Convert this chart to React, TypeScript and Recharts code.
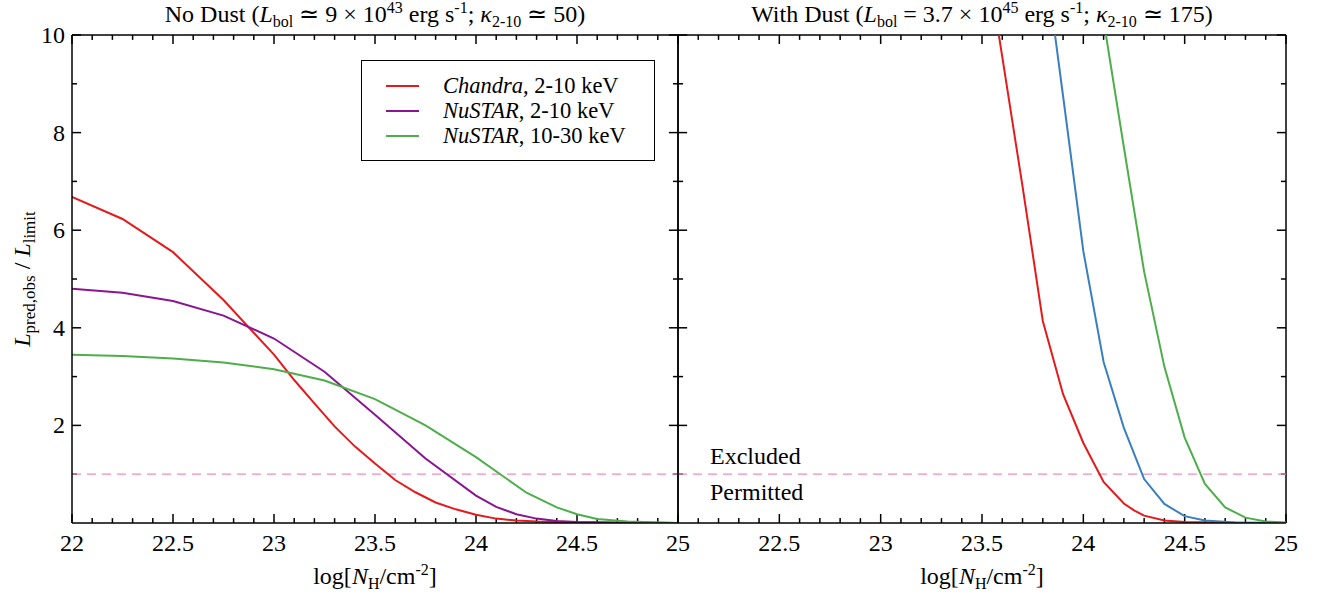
import React from 'react';
import { LineChart, Line, XAxis, YAxis, ReferenceLine } from 'recharts';

// tick positions
const xMajor = [22, 22.5, 23, 23.5, 24, 24.5, 25];
const xMinor = [22.1, 22.2, 22.3, 22.4, 22.6, 22.7, 22.8, 22.9, 23.1, 23.2, 23.3, 23.4, 23.6, 23.7, 23.8, 23.9, 24.1, 24.2, 24.3, 24.4, 24.6, 24.7, 24.8, 24.9];
const yMajor = [2, 4, 6, 8, 10];
const yMinor = [1, 3, 5, 7, 9];

// No Dust panel
const nhChandraNoDust = [22, 22.25, 22.5, 22.75, 23, 23.1, 23.2, 23.3, 23.4, 23.5, 23.6, 23.7, 23.8, 23.9, 24, 24.1, 24.2, 24.3, 24.5, 25];
const chandraNoDust = [6.68, 6.23, 5.55, 4.57, 3.45, 2.93, 2.45, 1.98, 1.57, 1.22, 0.88, 0.63, 0.42, 0.28, 0.17, 0.09, 0.05, 0.03, 0.01, 0];
const nhNustarLoNoDust = [22, 22.25, 22.5, 22.75, 23, 23.25, 23.5, 23.75, 24, 24.1, 24.2, 24.3, 24.4, 24.5, 24.75, 25];
const nustarLoNoDust = [4.8, 4.72, 4.55, 4.25, 3.78, 3.1, 2.22, 1.32, 0.56, 0.33, 0.18, 0.09, 0.04, 0.02, 0.005, 0];
const nhNustarHiNoDust = [22, 22.25, 22.5, 22.75, 23, 23.25, 23.5, 23.75, 24, 24.25, 24.4, 24.5, 24.6, 24.75, 25];
const nustarHiNoDust = [3.45, 3.42, 3.37, 3.29, 3.15, 2.92, 2.54, 2.0, 1.35, 0.62, 0.32, 0.18, 0.08, 0.03, 0];

// With Dust panel
const nhRedDust = [23.5, 23.6, 23.7, 23.8, 23.9, 24, 24.1, 24.2, 24.25, 24.3, 24.4, 24.5, 24.75, 25];
const redDust = [12.2, 9.55, 6.9, 4.14, 2.64, 1.64, 0.84, 0.4, 0.26, 0.15, 0.05, 0.02, 0.005, 0];
const nhBlueDust = [23.8, 23.9, 24, 24.1, 24.2, 24.3, 24.4, 24.5, 24.6, 24.75, 25];
const blueDust = [11.9, 8.75, 5.57, 3.3, 1.95, 0.9, 0.39, 0.14, 0.05, 0.01, 0];
const nhGreenDust = [24, 24.1, 24.2, 24.3, 24.4, 24.5, 24.6, 24.7, 24.8, 24.9, 25];
const greenDust = [13, 10.3, 7.7, 5.15, 3.2, 1.75, 0.8, 0.32, 0.11, 0.03, 0.01];

const RED = '#e41a1c';
const PURPLE = '#8a1592';
const GREEN = '#4dae4a';
const BLUE = '#3a7fbf';
const PINK = '#f08cbf';
const FONT = '"Liberation Serif", "Times New Roman", serif';

const toRows = (xs: number[], ys: number[]) => xs.map((x, i) => ({ nh: x, v: ys[i] }));

const X0 = 22;
const X1 = 25;
const Y0 = 0;
const Y1 = 10;

// inward tick lengths, in axis units (about 9px major, 5px minor)
const TX_MAJ = 0.045;
const TX_MIN = 0.025;
const TY_MAJ = 0.185;
const TY_MIN = 0.1;

const H = 596;
const frame = { stroke: '#000', strokeWidth: 1.5 };

const makeXLabel = (skipFirst: boolean) => (p: any) => {
  const val = p.payload.value;
  if (skipFirst && val === 22) return <g />;
  return (
    <text x={p.x} y={p.y + 28} textAnchor="middle" fontSize={24} fontFamily={FONT} fill="#000">
      {String(val)}
    </text>
  );
};

const makeYLabel = (show: boolean) => (p: any) =>
  show ? (
    <text x={p.x - 7} y={p.y + 8} textAnchor="end" fontSize={24} fontFamily={FONT} fill="#000">
      {String(p.payload.value)}
    </text>
  ) : (
    <g />
  );

type Series = { data: { nh: number; v: number }[]; color: string; name: string };

const tickSegments = () => {
  const out: React.ReactNode[] = [];
  const push = (key: string, a: { x: number; y: number }, b: { x: number; y: number }) =>
    out.push(<ReferenceLine key={key} segment={[a, b]} stroke="#000" strokeWidth={1.5} ifOverflow="visible" />);
  xMajor.forEach((t) => {
    push(`xb${t}`, { x: t, y: Y0 }, { x: t, y: Y0 + TY_MAJ });
    push(`xt${t}`, { x: t, y: Y1 }, { x: t, y: Y1 - TY_MAJ });
  });
  xMinor.forEach((t) => {
    push(`xbm${t}`, { x: t, y: Y0 }, { x: t, y: Y0 + TY_MIN });
    push(`xtm${t}`, { x: t, y: Y1 }, { x: t, y: Y1 - TY_MIN });
  });
  yMajor.forEach((t) => {
    push(`yl${t}`, { x: X0, y: t }, { x: X0 + TX_MAJ, y: t });
    push(`yr${t}`, { x: X1, y: t }, { x: X1 - TX_MAJ, y: t });
  });
  yMinor.forEach((t) => {
    push(`ylm${t}`, { x: X0, y: t }, { x: X0 + TX_MIN, y: t });
    push(`yrm${t}`, { x: X1, y: t }, { x: X1 - TX_MIN, y: t });
  });
  return out;
};

const Panel = ({
  left,
  width,
  margin,
  series,
  skipFirst,
  yLabels,
}: {
  left: number;
  width: number;
  margin: { top: number; right: number; bottom: number; left: number };
  series: Series[];
  skipFirst: boolean;
  yLabels: boolean;
}) => (
  <div style={{ position: 'absolute', left, top: 0 }}>
    <LineChart width={width} height={H} margin={margin}>
      <XAxis
        dataKey="nh"
        type="number"
        domain={[X0, X1]}
        ticks={xMajor}
        allowDataOverflow
        height={1}
        tickSize={0}
        tickMargin={0}
        tickLine={false}
        axisLine={frame}
        interval={0}
        tick={makeXLabel(skipFirst)}
      />
      <YAxis
        type="number"
        domain={[Y0, Y1]}
        ticks={yMajor}
        allowDataOverflow
        width={1}
        tickSize={0}
        tickMargin={0}
        tickLine={false}
        axisLine={frame}
        interval={0}
        tick={makeYLabel(yLabels)}
      />
      {/* top and right frame */}
      <ReferenceLine y={Y1} stroke="#000" strokeWidth={1.5} />
      <ReferenceLine x={X1} stroke="#000" strokeWidth={1.5} />
      {tickSegments()}
      <ReferenceLine y={1} stroke={PINK} strokeWidth={1.3} strokeDasharray="9 6" />
      {series.map((s) => (
        <Line
          key={s.name}
          data={s.data}
          dataKey="v"
          type="linear"
          stroke={s.color}
          strokeWidth={2}
          dot={false}
          isAnimationActive={false}
        />
      ))}
    </LineChart>
  </div>
);

const abs = (x: number, y: number, extra: React.CSSProperties = {}): React.CSSProperties => ({
  position: 'absolute',
  left: x,
  top: y,
  fontFamily: FONT,
  fontSize: 24,
  color: '#000',
  whiteSpace: 'nowrap',
  lineHeight: '26px',
  ...extra,
});

const sub: React.CSSProperties = { fontSize: 16, verticalAlign: '-5px', lineHeight: 0 };
const sup: React.CSSProperties = { fontSize: 16, verticalAlign: '9px', lineHeight: 0 };

const LegendRow = ({ color, inst, band, y }: { color: string; inst: string; band: string; y: number }) => (
  <div style={abs(24, y - 13, { width: 270, fontSize: 22.5 })}>
    <span style={{ position: 'absolute', left: 0, top: 12, width: 33, height: 2, background: color }} />
    <span style={{ position: 'absolute', left: 57, top: 0 }}>
      <i>{inst}</i>, {band}
    </span>
  </div>
);

export default function App() {
  return (
    <div style={{ position: 'absolute', left: 0, top: 0, width: 1323, height: 596, background: '#fff', overflow: 'hidden' }}>
      <Panel
        left={0}
        width={700}
        margin={{ top: 35, right: 22, bottom: 72, left: 71 }}
        skipFirst={false}
        yLabels
        series={[
          { name: 'chandra', color: RED, data: toRows(nhChandraNoDust, chandraNoDust) },
          { name: 'nustarLo', color: PURPLE, data: toRows(nhNustarLoNoDust, nustarLoNoDust) },
          { name: 'nustarHi', color: GREEN, data: toRows(nhNustarHiNoDust, nustarHiNoDust) },
        ]}
      />
      <Panel
        left={600}
        width={723}
        margin={{ top: 35, right: 37, bottom: 72, left: 77 }}
        skipFirst
        yLabels={false}
        series={[
          { name: 'red', color: RED, data: toRows(nhRedDust, redDust) },
          { name: 'blue', color: BLUE, data: toRows(nhBlueDust, blueDust) },
          { name: 'green', color: GREEN, data: toRows(nhGreenDust, greenDust) },
        ]}
      />

      {/* titles */}
      <div style={abs(75, 1, { width: 600, textAlign: 'center' })}>
        No Dust (<i>L</i><span style={sub}>bol</span> ≃ 9 × 10<span style={sup}>43</span> erg s<span style={sup}>-1</span>; <i>κ</i><span style={sub}>2-10</span> ≃ 50)
      </div>
      <div style={abs(682, 1, { width: 600, textAlign: 'center' })}>
        With Dust (<i>L</i><span style={sub}>bol</span> = 3.7 × 10<span style={sup}>45</span> erg s<span style={sup}>-1</span>; <i>κ</i><span style={sub}>2-10</span> ≃ 175)
      </div>

      {/* axis labels */}
      <div style={abs(225, 563, { width: 300, textAlign: 'center' })}>
        log[<i>N</i><span style={sub}>H</span>/cm<span style={sup}>-2</span>]
      </div>
      <div style={abs(832, 563, { width: 300, textAlign: 'center' })}>
        log[<i>N</i><span style={sub}>H</span>/cm<span style={sup}>-2</span>]
      </div>
      <div style={abs(-128, 266, { width: 300, textAlign: 'center', transform: 'rotate(-90deg)' })}>
        <i>L</i><span style={{ ...sub, fontSize: 17 }}>pred,obs</span> / <i>L</i><span style={{ ...sub, fontSize: 17 }}>limit</span>
      </div>

      {/* region notes */}
      <div style={abs(710, 443)}>Excluded</div>
      <div style={abs(710, 479)}>Permitted</div>

      {/* legend */}
      <div style={{ position: 'absolute', left: 361, top: 60, width: 292, height: 99, border: '1.5px solid #000', background: '#fff' }}>
        <LegendRow color={RED} inst="Chandra" band="2-10 keV" y={25} />
        <LegendRow color={PURPLE} inst="NuSTAR" band="2-10 keV" y={50} />
        <LegendRow color={GREEN} inst="NuSTAR" band="10-30 keV" y={75} />
      </div>
    </div>
  );
}
